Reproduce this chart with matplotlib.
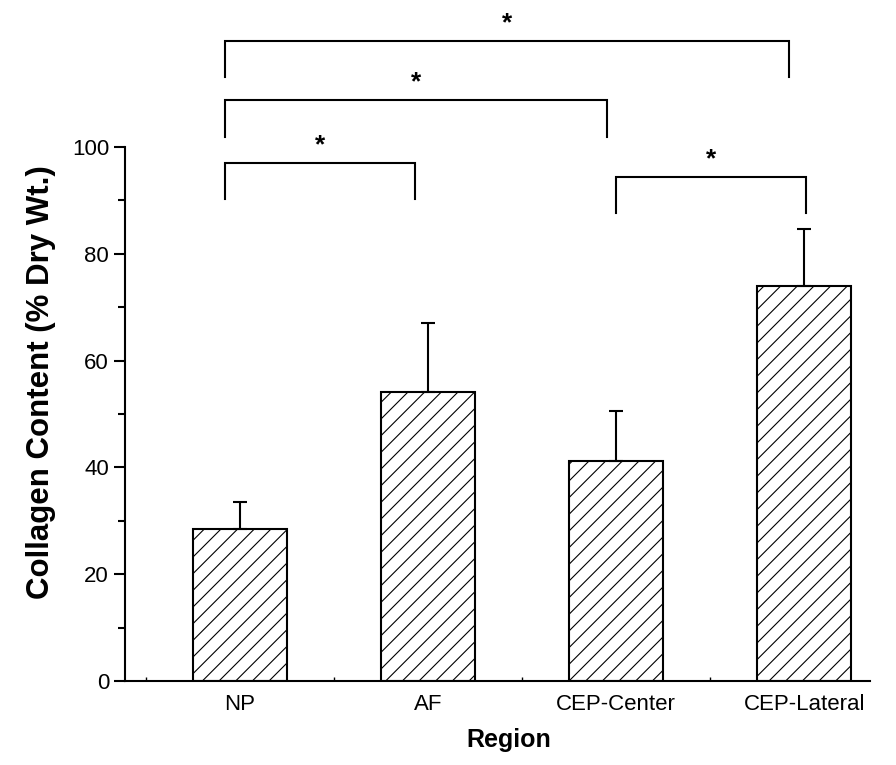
import matplotlib
matplotlib.use("Agg")
import matplotlib.pyplot as plt
import numpy as np
from matplotlib.ticker import MultipleLocator

plt.rcParams['font.family'] = ['Liberation Sans', 'DejaVu Sans']
plt.rcParams['hatch.linewidth'] = 0.8

regions = ["NP", "AF", "CEP-Center", "CEP-Lateral"]
collagen = [28.5, 54.2, 41.2, 74.0]
sd_upper = [5.0, 12.8, 9.3, 10.6]

# significance brackets: left x, right x, bracket level, drop of the legs
bracket_left = [-0.08, -0.08, -0.08, 2.0]
bracket_right = [2.92, 1.95, 0.93, 3.01]
bracket_level = [119.9, 108.8, 97.0, 94.4]
bracket_drop = [6.8, 6.9, 6.8, 6.8]

fig = plt.figure(figsize=(8.96, 7.65), dpi=100)
ax = fig.add_axes([0.1395, 0.1098, 0.8315, 0.698])

x = np.arange(len(regions))
ax.bar(x, collagen, width=0.5, color='white', edgecolor='black',
       linewidth=1.5, hatch='//', zorder=2)
ax.errorbar(x, collagen, yerr=[np.zeros(len(x)), sd_upper], fmt='none',
            ecolor='black', elinewidth=1.5, capsize=5, capthick=1.5, zorder=3)

for xl, xr, yb, drop in zip(bracket_left, bracket_right, bracket_level, bracket_drop):
    ax.plot([xl, xl, xr, xr], [yb - drop, yb, yb, yb - drop], color='black',
            linewidth=1.5, clip_on=False, solid_joinstyle='miter')
    ax.text((xl + xr) / 2, yb + 1.0, '*', ha='center', va='bottom',
            fontsize=19, fontweight='bold', clip_on=False)

ax.set_xlim(-0.612, 3.35)
ax.set_ylim(0, 100)
ax.set_xticks(x)
ax.set_xticklabels(regions)
ax.xaxis.set_minor_locator(MultipleLocator(0.5))
ax.yaxis.set_major_locator(MultipleLocator(20))
ax.yaxis.set_minor_locator(MultipleLocator(10))
ax.tick_params(axis='x', which='major', length=0, labelsize=16, pad=9)
ax.tick_params(axis='x', which='minor', length=3, direction='in', width=1)
ax.tick_params(axis='y', which='major', length=8, width=1.5, labelsize=16)
ax.tick_params(axis='y', which='minor', length=5, width=1.5)

for side in ['top', 'right']:
    ax.spines[side].set_visible(False)
for side in ['left', 'bottom']:
    ax.spines[side].set_linewidth(1.5)

ax.set_xlabel('Region', fontsize=18, fontweight='bold')
ax.set_ylabel('Collagen Content (% Dry Wt.)', fontsize=22.5, fontweight='bold')
ax.xaxis.set_label_coords((509 - 125) / 745, -(740 - 681) / 534)
ax.yaxis.set_label_coords(-(125 - 41) / 745, (681 - 382) / 534)
ax.xaxis.label.set_va('center')
ax.yaxis.label.set_va('center')

fig.savefig('out.png', dpi=100)
